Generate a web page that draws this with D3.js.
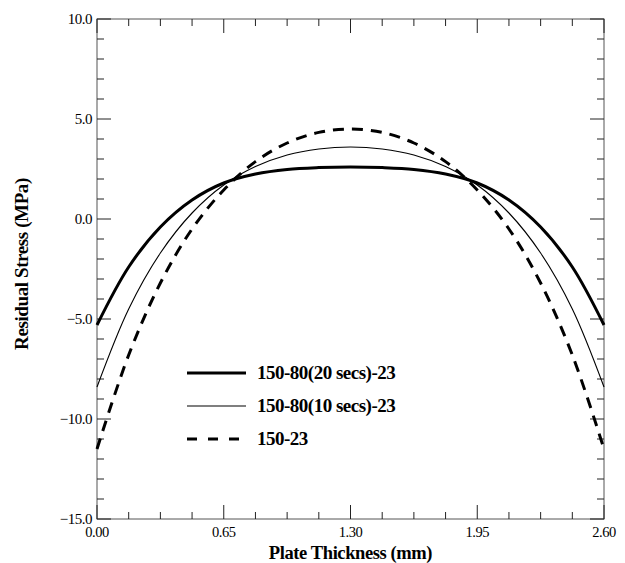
<!DOCTYPE html>
<html>
<head>
<meta charset="utf-8">
<script src="https://cdn.jsdelivr.net/npm/d3@7"></script>
<style>
  body { margin: 0; background: #fff; }
  text { font-family: "Liberation Serif", "Times New Roman", Times, serif; }
</style>
</head>
<body>
<svg id="chart" width="625" height="563"></svg>
<script>
// thickness positions (mm)
const thickness = [0, 0.1625, 0.325, 0.4875, 0.65, 0.8125, 0.975, 1.1375, 1.3,
  1.4625, 1.625, 1.7875, 1.95, 2.1125, 2.275, 2.4375, 2.6];
// residual stress (MPa) per series
const stress20 = [-5.3, -2.4, -0.4, 0.95, 1.8, 2.25, 2.48, 2.57, 2.6,
  2.57, 2.48, 2.25, 1.8, 0.95, -0.4, -2.4, -5.3];
const stress10 = [-8.4, -4.5, -1.7, 0.3, 1.7, 2.62, 3.2, 3.5, 3.6,
  3.5, 3.2, 2.62, 1.7, 0.3, -1.7, -4.5, -8.4];
const stressBase = [-11.5, -6.8, -3.2, -0.5, 1.45, 2.87, 3.8, 4.33, 4.5,
  4.33, 3.8, 2.87, 1.45, -0.5, -3.2, -6.8, -11.5];
const seriesNames = ["150-80(20 secs)-23", "150-80(10 secs)-23", "150-23"];
const xTicks = [0, 0.65, 1.3, 1.95, 2.6];
const yTicks = [10, 5, 0, -5, -10, -15];

const svg = d3.select("#chart");
const [mLeft, mRight, mTop, mBottom] = [97, 604, 19, 519];

const x = d3.scaleLinear().domain([0, 2.6]).range([mLeft, mRight]);
const y = d3.scaleLinear().domain([-15, 10]).range([mBottom, mTop]);

const styles = [
  { w: 3, dash: null },
  { w: 1.1, dash: null },
  { w: 3, dash: "11,8" }
];

// frame
svg.append("rect")
  .attr("x", mLeft).attr("y", mTop)
  .attr("width", mRight - mLeft).attr("height", mBottom - mTop)
  .attr("fill", "none").attr("stroke", "#555").attr("stroke-width", 1);

// ticks on all four sides
let xMinor = d3.range(0, 2.6001, 0.1625);
let yMinor = d3.range(-15, 10.001, 1);
let tickG = svg.append("g").attr("stroke", "#222").attr("stroke-width", 1);
for (let v of xMinor) {
  let major = xTicks.some(t => Math.abs(t - v) < 1e-6);
  let len = major ? 14 : 7;
  tickG.append("line").attr("x1", x(v)).attr("x2", x(v))
    .attr("y1", mBottom).attr("y2", mBottom - len);
  tickG.append("line").attr("x1", x(v)).attr("x2", x(v))
    .attr("y1", mTop).attr("y2", mTop + len);
}
for (let v of yMinor) {
  let major = yTicks.some(t => Math.abs(t - v) < 1e-6);
  let len = major ? 14 : 7;
  tickG.append("line").attr("y1", y(v)).attr("y2", y(v))
    .attr("x1", mLeft).attr("x2", mLeft + len);
  tickG.append("line").attr("y1", y(v)).attr("y2", y(v))
    .attr("x1", mRight).attr("x2", mRight - len);
}

// tick labels
svg.append("g").selectAll("text").data(xTicks).join("text")
  .attr("x", d => x(d)).attr("y", mBottom + 18)
  .attr("text-anchor", "middle").attr("font-size", 14.5)
  .attr("letter-spacing", -0.5)
  .text(d => d3.format(".2f")(d));
svg.append("g").selectAll("text").data(yTicks).join("text")
  .attr("x", mLeft - 5).attr("y", d => y(d) + 5)
  .attr("text-anchor", "end").attr("font-size", 15)
  .attr("letter-spacing", -0.5)
  .text(d => d3.format(".1f")(d));

// axis titles
svg.append("text")
  .attr("x", (mLeft + mRight) / 2).attr("y", 559)
  .attr("text-anchor", "middle").attr("font-size", 18.5).attr("font-weight", "bold")
  .attr("letter-spacing", -0.4)
  .text("Plate Thickness (mm)");
svg.append("text")
  .attr("transform", "translate(28,264) rotate(-90)")
  .attr("text-anchor", "middle").attr("font-size", 19).attr("font-weight", "bold")
  .attr("letter-spacing", -0.4)
  .text("Residual Stress (MPa)");

// curves
let line = d3.line()
  .x((d, i) => x(thickness[i]))
  .y(d => y(d))
  .curve(d3.curveCatmullRom.alpha(0.5));
[stress20, stress10, stressBase].forEach((s, i) => {
  svg.append("path")
    .attr("d", line(s))
    .attr("fill", "none").attr("stroke", "#000")
    .attr("stroke-width", styles[i].w)
    .attr("stroke-dasharray", styles[i].dash);
});

// legend
let legY = [373, 406, 439];
seriesNames.forEach((name, i) => {
  svg.append("line")
    .attr("x1", 187).attr("x2", 246)
    .attr("y1", legY[i]).attr("y2", legY[i])
    .attr("stroke", "#000")
    .attr("stroke-width", styles[i].w)
    .attr("stroke-dasharray", i === 2 ? "10,11" : styles[i].dash);
  svg.append("text")
    .attr("x", 257).attr("y", legY[i] + 6)
    .attr("font-size", 19).attr("font-weight", "bold")
    .attr("letter-spacing", -0.5)
    .text(name);
});
</script>
</body>
</html>
